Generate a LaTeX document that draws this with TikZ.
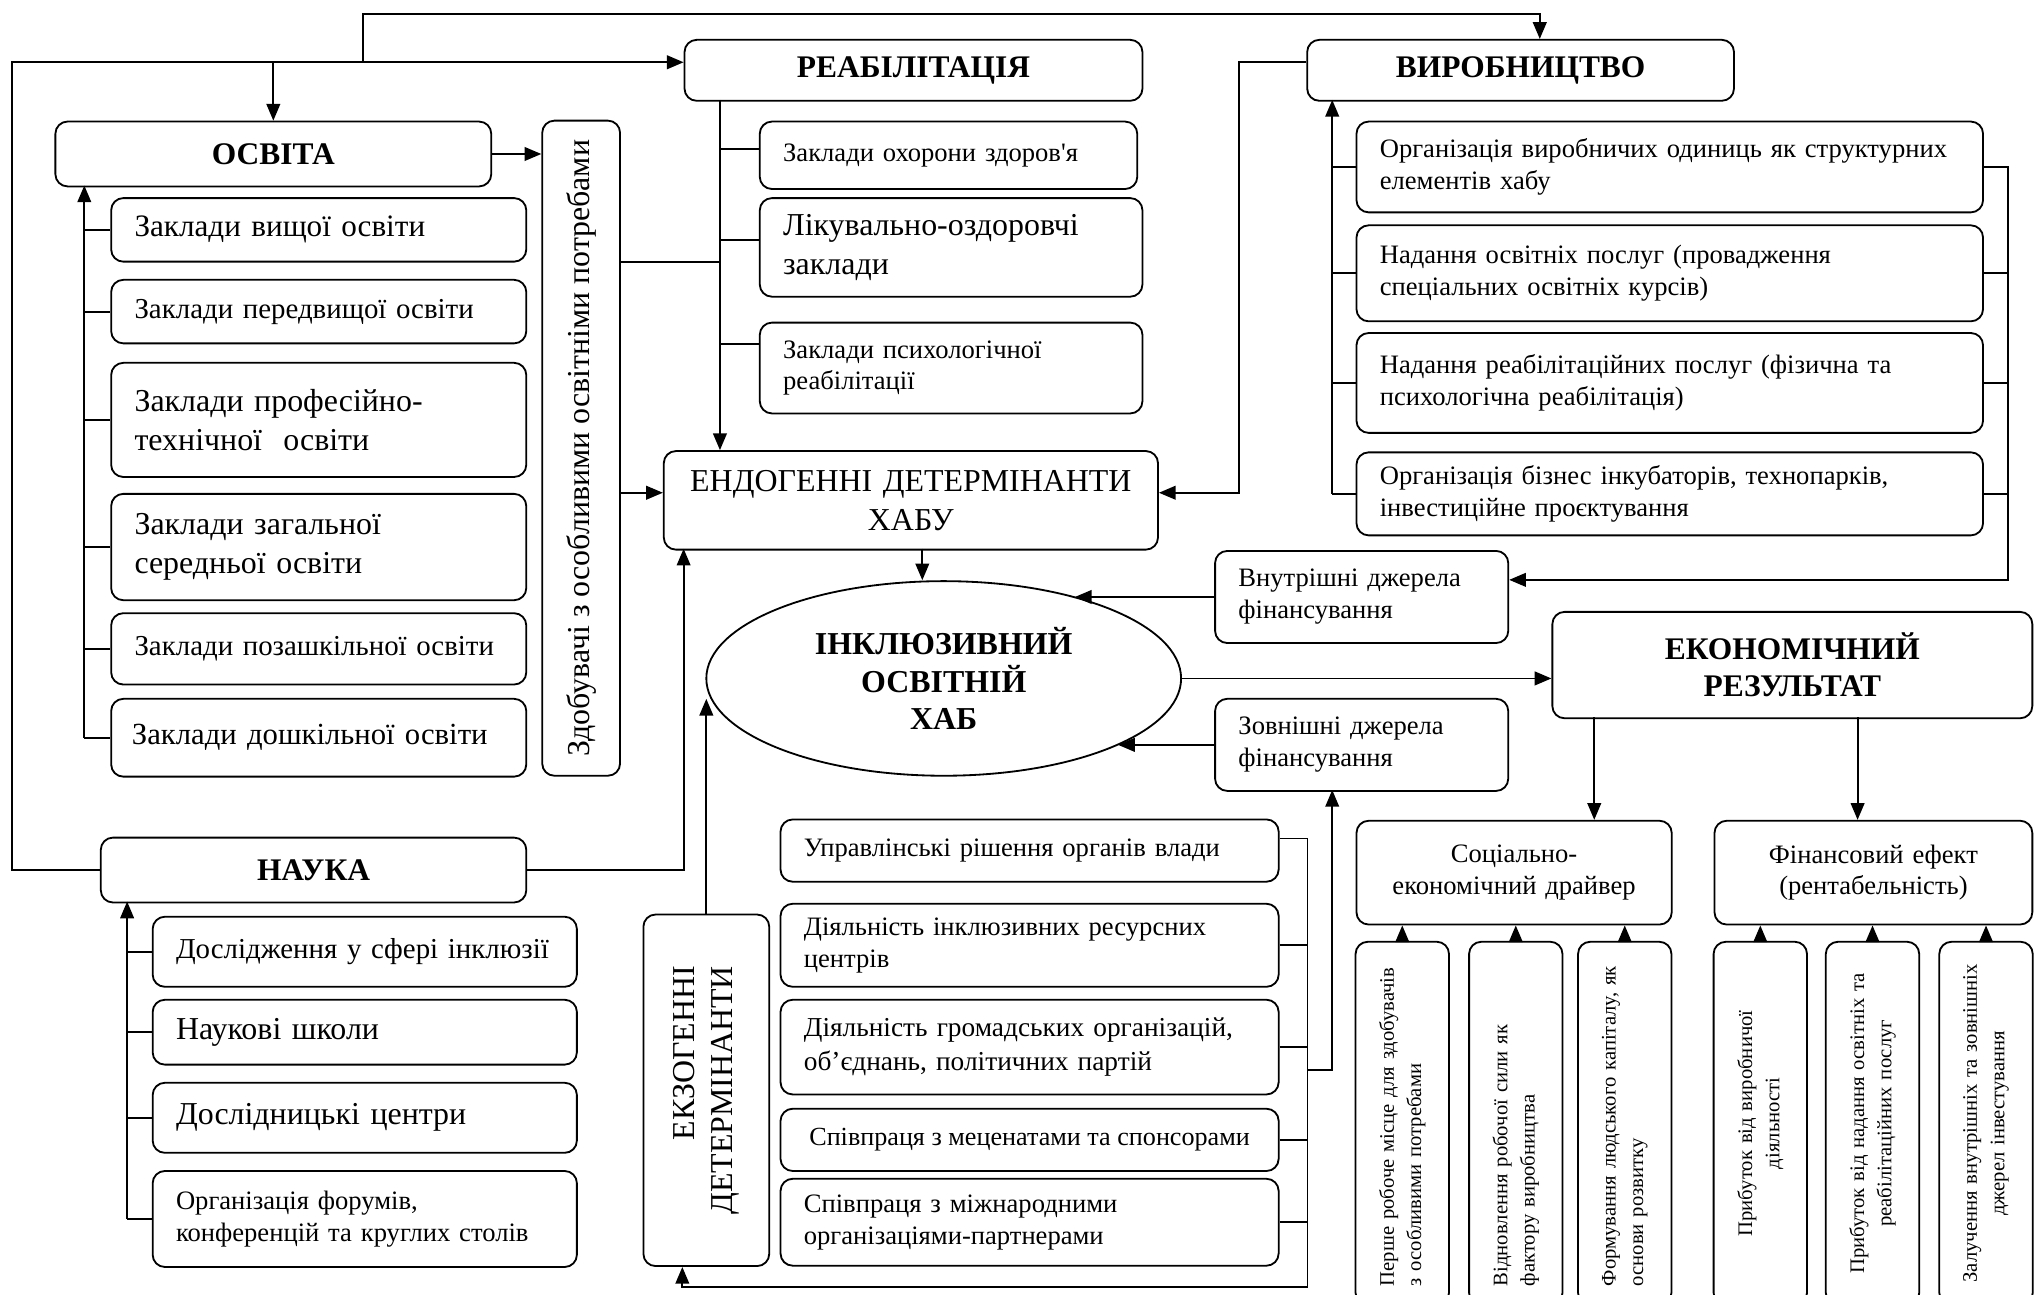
\documentclass[tikz,border=0pt]{standalone}
\usepackage{fontspec}
\setmainfont{Liberation Serif}
\usepackage{tikz}
\usetikzlibrary{arrows.meta}
\usetikzlibrary{shapes.geometric}

\newlength{\pxu}
\setlength{\pxu}{0.3mm}

\begin{document}
\begin{tikzpicture}[x=0.3mm, y=-0.3mm, line width=1.2pt,
  >={Triangle[length=11pt,width=9pt]},
  box/.style={draw, rounded corners=8pt, anchor=north west, align=left, inner xsep=18\pxu, inner ysep=2pt},
  hdr/.style={box, align=center, font=\fontsize{20.7}{24.5}\selectfont\bfseries},
  vbox/.style={draw, rounded corners=8pt, rotate=90, inner xsep=13\pxu, inner ysep=2pt},
  fs/.style={font=\fontsize{17.5}{21}\selectfont},
  fm/.style={font=\fontsize{19}{23}\selectfont},
  fl/.style={font=\fontsize{21}{25.5}\selectfont},
  ft/.style={font=\fontsize{13.6}{18}\selectfont}]
% \draw[lightgray] (0,0) grid[step=50] (1568,998);
\useasboundingbox (0,0) rectangle (1568,998);

% osvita
\node[hdr, text width=300\pxu, minimum height=50\pxu] (osv) at (42,93) {ОСВІТА};
\node[box, font=\fontsize{20.5}{25}\selectfont, text width=284\pxu, minimum height=49\pxu] (o1) at (85,152) {Заклади вищої освіти};
\node[box, fm, text width=284\pxu, minimum height=49\pxu] (o2) at (85,215) {Заклади передвищої освіти};
\node[box, fl, text width=284\pxu, minimum height=88\pxu] (o3) at (85,279) {Заклади професійно-\\технічної~ освіти};
\node[box, fl, text width=284\pxu, minimum height=82\pxu] (o4) at (85,380) {Заклади загальної\\середньої освіти};
\node[box, fm, text width=284\pxu, minimum height=55\pxu] (o5) at (85,472) {Заклади позашкільної освіти};
\node[box, font=\fontsize{20.2}{25}\selectfont, inner xsep=16\pxu, text width=288\pxu, minimum height=60\pxu] (o6) at (85,538) {Заклади дошкільної освіти};
\node[vbox, fl, minimum width=505\pxu, minimum height=60\pxu] (zd) at (448,345.5) {Здобувачі з особливими освітніми потребами};

% reabilitatsiia
\node[hdr, text width=317\pxu, minimum height=47\pxu] (reab) at (527,30) {РЕАБІЛІТАЦІЯ};
\node[box, fs, text width=255\pxu, minimum height=52\pxu] (r1) at (585,93) {Заклади охорони здоров{\textquotesingle}я};
\node[box, fl, text width=259\pxu, minimum height=76\pxu] (r2) at (585,152) {Лікувально-оздоровчі\\заклади};
\node[box, fs, text width=259\pxu, minimum height=70\pxu] (r3) at (585,248) {Заклади психологічної\\реабілітації};

% vyrobnytstvo
\node[hdr, text width=293\pxu, minimum height=47\pxu] (vyr) at (1007,30) {ВИРОБНИЦТВО};
\node[box, fs, text width=447\pxu, minimum height=70\pxu] (v1) at (1045,93) {Організація виробничих одиниць як структурних\\елементів хабу};
\node[box, fs, text width=447\pxu, minimum height=74\pxu] (v2) at (1045,173) {Надання освітніх послуг (провадження\\спеціальних освітніх курсів)};
\node[box, fs, text width=447\pxu, minimum height=77\pxu] (v3) at (1045,256) {Надання реабілітаційних послуг (фізична та\\психологічна реабілітація)};
\node[box, fs, text width=447\pxu, minimum height=64\pxu] (v4) at (1045,348) {Організація бізнес інкубаторів, технопарків,\\інвестиційне проєктування};

% hub
\node[box, fl, align=center, text width=345\pxu, minimum height=76\pxu] (endo) at (511,347) {ЕНДОГЕННІ ДЕТЕРМІНАНТИ\\ХАБУ};
\node[draw, ellipse, minimum width=366\pxu, minimum height=150\pxu, inner sep=0pt, align=center,
  font=\fontsize{21}{24.6}\selectfont\bfseries] (hub) at (727.5,523) {ІНКЛЮЗИВНИЙ\\ОСВІТНІЙ\\ХАБ};
\node[box, fs, text width=190\pxu, minimum height=71\pxu] (vnut) at (936,424) {Внутрішні джерела\\фінансування};
\node[box, fs, text width=190\pxu, minimum height=71\pxu] (zovn) at (936,538) {Зовнішні джерела\\фінансування};

% rezultat
\node[hdr, text width=334\pxu, minimum height=82\pxu] (ekon) at (1196,471) {ЕКОНОМІЧНИЙ\\РЕЗУЛЬТАТ};
\node[box, fs, align=center, text width=207\pxu, minimum height=80\pxu] (soc) at (1045,632) {Соціально-\\економічний драйвер};
\node[box, fs, align=center, text width=209\pxu, minimum height=80\pxu] (fin) at (1321,632) {Фінансовий ефект\\(рентабельність)};
\node[vbox, ft, align=left, text width=251\pxu, minimum width=280\pxu, minimum height=72\pxu] (b1) at (1081,866) {Перше робоче місце для здобувачів\\з особливими потребами};
\node[vbox, ft, align=left, text width=251\pxu, minimum width=280\pxu, minimum height=72\pxu] (b2) at (1168.5,866) {Відновлення робочої сили як\\фактору виробництва};
\node[vbox, ft, align=left, text width=251\pxu, minimum width=280\pxu, minimum height=72\pxu] (b3) at (1252.5,866) {Формування людського капіталу, як\\основи розвитку};
\node[vbox, ft, align=center, text width=251\pxu, minimum width=280\pxu, minimum height=72\pxu] (b4) at (1357,866) {Прибуток від виробничої\\діяльності};
\node[vbox, ft, align=center, text width=251\pxu, minimum width=280\pxu, minimum height=72\pxu] (b5) at (1443.5,866) {Прибуток від надання освітніх та\\реабілітаційних послуг};
\node[vbox, ft, align=center, text width=251\pxu, minimum width=280\pxu, minimum height=72\pxu] (b6) at (1531,866) {Залучення внутрішніх та зовнішніх\\джерел інвестування};

% nauka
\node[hdr, text width=292\pxu, minimum height=50\pxu] (nauka) at (77,645) {НАУКА};
\node[box, fm, text width=291\pxu, minimum height=54\pxu] (n1) at (117,706) {Дослідження у сфері інклюзії};
\node[box, fl, text width=291\pxu, minimum height=50\pxu] (n2) at (117,770) {Наукові школи};
\node[box, fl, text width=291\pxu, minimum height=54\pxu] (n3) at (117,834) {Дослідницькі центри};
\node[box, fs, text width=291\pxu, minimum height=74\pxu] (n4) at (117,902) {Організація форумів,\\конференцій та круглих столів};

% ekzohenni
\node[vbox, fl, align=right, minimum width=271\pxu, minimum height=97\pxu] (exo) at (544.5,840.5) {ЕКЗОГЕННІ\\ДЕТЕРМІНАНТИ};
\node[box, fs, text width=348\pxu, minimum height=48\pxu] (e1) at (601,631) {Управлінські рішення органів влади};
\node[box, fs, text width=348\pxu, minimum height=64\pxu] (e2) at (601,696) {Діяльність інклюзивних ресурсних\\центрів};
\node[box, font=\fontsize{18}{22}\selectfont, text width=348\pxu, minimum height=73\pxu] (e3) at (601,770) {Діяльність громадських організацій,\\об’єднань, політичних партій};
\node[box, font=\fontsize{17.2}{21}\selectfont, inner xsep=4pt, minimum width=384\pxu, minimum height=48\pxu] (e4) at (601,854) {Співпраця з меценатами та спонсорами};
\node[box, fs, text width=348\pxu, minimum height=67\pxu] (e5) at (601,908) {Співпраця з міжнародними\\організаціями-партнерами};

% top loop
\coordinate (lt) at (9,48);
\coordinate (br) at (280,48);
\coordinate (vt) at (1187,11);
\draw[->] (nauka.west) -| (lt) -- (reab.west |- lt);
\draw[->] (osv.north |- lt) -- (osv.north);
\draw[->] (br) |- (vt) -- (vt |- vyr.north);

% osvita links
\draw[->] (osv.east) -- (osv.east -| zd.north);
\coordinate (ov) at (65,143);
\draw[->] (o6.west -| ov) -- (ov);
\foreach \n in {o1,o2,o3,o4,o5,o6}
  \draw (\n.west -| ov) -- (\n.west);

% reabilitatsiia links
\coordinate (rv) at (555,77);
\coordinate (zr) at (478,202);
\draw[->] (rv) -- (rv |- endo.north);
\draw (zr) -- (zr -| rv);
\foreach \n/\d in {r1/4pt,r2/5pt,r3/16pt}{
  \coordinate (\n c) at ([yshift=\d]\n.west);
  \draw (\n c -| rv) -- (\n c);
}

% into endo
\coordinate (ew) at ([yshift=5pt]endo.west);
\coordinate (ee) at ([yshift=5pt]endo.east);
\coordinate (vl) at (955,48);
\coordinate (nu) at (527,423);
\coordinate (eh) at (711,423);
\draw[->] (zd.south |- ew) -- (ew);
\draw[->] (vyr.west |- vl) -- (vl) |- (ee);
\draw[->] (nauka.east) -| (nu);
\draw[->] (eh) -- (eh |- hub.north);

% vyrobnytstvo links
\coordinate (vv) at (1027,77);
\coordinate (vr) at (1548,447);
\draw[->] (v4.west -| vv) -- (vv);
\foreach \n in {v1,v2,v3,v4}
  \draw (\n.west -| vv) -- (\n.west);
\draw[->] (v1.east) -| (vr) -- (vr -| vnut.east);
\foreach \n in {v2,v3,v4}
  \draw (\n.east) -- (\n.east -| vr);

% financing and result
\draw[->] (vnut.west) -- (vnut.west -| hub.32);
\draw[->] (zovn.west) -- (zovn.west -| hub.339);
\draw[->] (hub.east) -- (hub.east -| ekon.west);
\coordinate (ea) at (1229,553);
\coordinate (eb) at (1432,553);
\draw[->] (ea) -- (ea |- soc.north);
\draw[->] (eb) -- (eb |- fin.north);
\foreach \n in {b1,b2,b3}
  \draw[->] (\n.east) -- (\n.east |- soc.south);
\foreach \n in {b4,b5,b6}
  \draw[->] (\n.east) -- (\n.east |- fin.south);

% nauka links
\coordinate (nv) at (98,695);
\draw[->] (n4.west -| nv) -- (nv);
\foreach \n in {n1,n2,n3,n4}
  \draw (\n.west -| nv) -- (\n.west);

% ekzohenni links
\coordinate (e1c) at ([yshift=8pt]e1.east);
\coordinate (xr) at (1008,992);
\coordinate (xb) at (526,992);
\coordinate (xz) at (1008,825);
\coordinate (zz) at (1027,609);
\draw[->] (exo.east) -- (exo.east |- hub.185);
\draw[->] (e1c) -| (xr) -- (xb) -- (xb |- exo.west);
\foreach \n in {e2,e3,e4,e5}
  \draw (\n.east) -- (\n.east -| xr);
\draw[->] (xz) -| (zz);

\end{tikzpicture}
\end{document}
